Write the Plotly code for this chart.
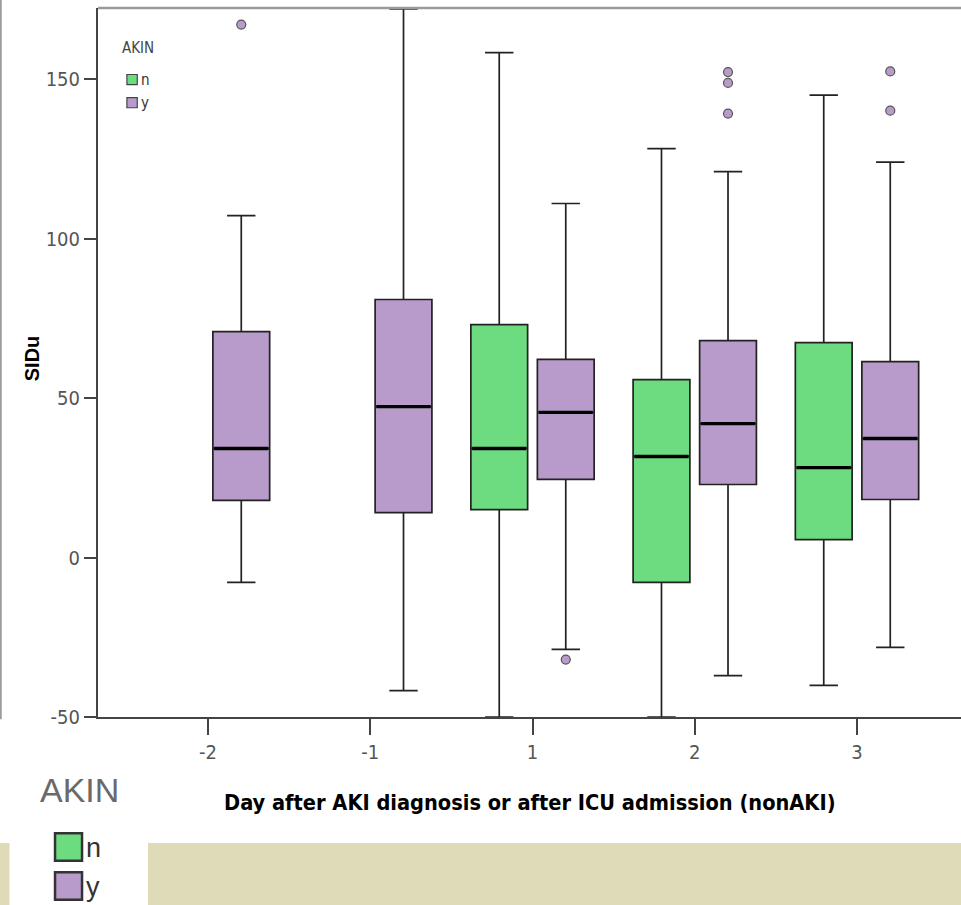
import plotly.graph_objects as go

# Day categories on the x axis
days = ["-2", "-1", "1", "2", "3"]

# SIDu axis ticks
sidu_ticks = [-50, 0, 50, 100, 150]

# AKIN = n (no AKI) box statistics, None where the group has no data
n_q1 = [None, None, 15.0, -7.8, 5.6]
n_median = [None, None, 34.2, 31.7, 28.2]
n_q3 = [None, None, 73.0, 55.8, 67.4]
n_low = [None, None, -50.0, -50.0, -40.1]
n_high = [None, None, 158.3, 128.2, 145.0]

# AKIN = y (AKI) box statistics
y_q1 = [17.9, 14.1, 24.5, 22.9, 18.2]
y_median = [34.2, 47.3, 45.5, 42.0, 37.3]
y_q3 = [70.8, 80.9, 62.1, 68.0, 61.4]
y_low = [-7.8, -41.7, -28.8, -37.0, -28.2]
y_high = [107.2, 172.0, 111.0, 121.0, 124.0]

# Outliers of the AKIN = y groups: (day, SIDu)
y_outlier_day = ["-2", "1", "2", "2", "2", "3", "3"]
y_outlier_val = [167.1, -32.0, 152.2, 148.8, 139.2, 152.4, 140.1]

GREEN = "#6ddc80"
PURPLE = "#b89bca"
EDGE = "#222222"
OFFSET = 0.205
BOX_W = 0.35
NARROW = "Liberation Sans Narrow, DejaVu Sans Condensed, Arial Narrow, sans-serif"
SANS = "Liberation Sans, Arial, sans-serif"

pos = {d: i for i, d in enumerate(days)}

fig = go.Figure()


def add_group(q1, med, q3, lo, hi, shift, color, name):
    idx = [i for i, v in enumerate(med) if v is not None]
    xs = [i + shift for i in idx]
    fig.add_trace(go.Box(
        x=xs,
        q1=[q1[i] for i in idx], median=[med[i] for i in idx], q3=[q3[i] for i in idx],
        lowerfence=[lo[i] for i in idx], upperfence=[hi[i] for i in idx],
        width=BOX_W, whiskerwidth=0.5,
        fillcolor=color, line=dict(color=EDGE, width=1.7),
        boxpoints=False, name=name, showlegend=False, hoverinfo="skip",
    ))
    # heavier median bars drawn on top of the boxes
    mx, my = [], []
    for i in idx:
        mx += [i + shift - BOX_W / 2 + 0.008, i + shift + BOX_W / 2 - 0.008, None]
        my += [med[i], med[i], None]
    fig.add_trace(go.Scatter(x=mx, y=my, mode="lines",
                             line=dict(color="#000000", width=3.4),
                             showlegend=False, hoverinfo="skip"))


add_group(n_q1, n_median, n_q3, n_low, n_high, -OFFSET, GREEN, "n")
add_group(y_q1, y_median, y_q3, y_low, y_high, OFFSET, PURPLE, "y")

fig.add_trace(go.Scatter(
    x=[pos[d] + OFFSET for d in y_outlier_day], y=y_outlier_val, mode="markers",
    marker=dict(size=9, color=PURPLE, line=dict(color="#555555", width=1.2)),
    showlegend=False, hoverinfo="skip", cliponaxis=True,
))

tick_font = dict(family=NARROW, size=20, color="#555555")

fig.update_layout(
    width=961, height=905,
    margin=dict(l=98, r=0, t=8, b=188),
    paper_bgcolor="white", plot_bgcolor="white",
    showlegend=False,
    xaxis=dict(
        range=[-0.678, 4.641], tickmode="array",
        tickvals=list(range(len(days))), ticktext=days,
        ticks="outside", ticklen=16, tickwidth=1.5, tickcolor="#444444",
        showline=True, linecolor="#444444", linewidth=2,
        showgrid=False, zeroline=False, tickfont=tick_font,
    ),
    yaxis=dict(
        range=[-50, 172.3], tickmode="array", tickvals=sidu_ticks,
        ticktext=[str(v) for v in sidu_ticks],
        ticks="outside", ticklen=12, tickwidth=1.5, tickcolor="#444444",
        showline=True, linecolor="#444444", linewidth=2,
        showgrid=False, zeroline=False, tickfont=tick_font,
    ),
)

# top frame line
fig.add_shape(type="line", xref="paper", yref="paper", x0=0, x1=1, y0=1, y1=1,
              line=dict(color="#9a9a9a", width=2.5))
# thin border along the left edge of the page
fig.add_shape(type="line", xref="paper", yref="paper", x0=-0.1125, x1=-0.1125,
              y0=-0.003, y1=1.012, line=dict(color="#8c8c8c", width=1.5))

# axis titles
fig.add_annotation(text="<b>SIDu</b>", textangle=-90, xref="paper", yref="paper",
                   x=-0.0765, y=0.506, showarrow=False,
                   font=dict(family=SANS, size=20, color="#000"),
                   xanchor="center", yanchor="middle")
fig.add_annotation(text="<b>Day after AKI diagnosis or after ICU admission (nonAKI)</b>",
                   xref="paper", yref="paper", x=0.5, y=-0.121, showarrow=False,
                   font=dict(family=NARROW, size=21.6, color="#000"),
                   xanchor="center", yanchor="middle")

# tan band along the page bottom
band = "#dfdab7"
fig.add_shape(type="rect", xref="paper", yref="paper", x0=-0.1136, x1=-0.1025,
              y0=-0.272, y1=-0.1777, fillcolor=band, line_width=0, layer="below")
fig.add_shape(type="rect", xref="paper", yref="paper", x0=0.058, x1=1.0,
              y0=-0.272, y1=-0.1777, fillcolor=band, line_width=0, layer="below")

# small legend inside the plot
fig.add_annotation(text="AKIN", xref="paper", yref="paper", x=0.025, y=0.944,
                   showarrow=False, xanchor="left", yanchor="middle",
                   font=dict(family=NARROW, size=15, color="#444444"))
for k, (lab, col) in enumerate([("n", GREEN), ("y", PURPLE)]):
    yc = 0.899 - k * 0.0325
    fig.add_shape(type="rect", xref="paper", yref="paper", x0=0.0335, x1=0.0455,
                  y0=yc - 0.0072, y1=yc + 0.0072, fillcolor=col,
                  line=dict(color="#444444", width=1.2))
    fig.add_annotation(text=lab, xref="paper", yref="paper", x=0.048, y=yc,
                       showarrow=False, xanchor="left", yanchor="middle",
                       font=dict(family=NARROW, size=15, color="#333333"))

# large legend below the plot
fig.add_annotation(text="AKIN", xref="paper", yref="paper", x=-0.069, y=-0.1035,
                   showarrow=False, xanchor="left", yanchor="middle",
                   font=dict(family=SANS, size=34, color="#6a6a6a"))
for k, (lab, col) in enumerate([("n", GREEN), ("y", PURPLE)]):
    yc = -0.1834 - k * 0.055
    fig.add_shape(type="rect", xref="paper", yref="paper", x0=-0.0498, x1=-0.0185,
                  y0=yc - 0.0195, y1=yc + 0.0195, fillcolor=col,
                  line=dict(color="#333333", width=2.5))
    fig.add_annotation(text=lab, xref="paper", yref="paper", x=-0.016, y=yc - 0.002,
                       showarrow=False, xanchor="left", yanchor="middle",
                       font=dict(family=SANS, size=27, color="#333333"))

fig.write_html("out.html")
